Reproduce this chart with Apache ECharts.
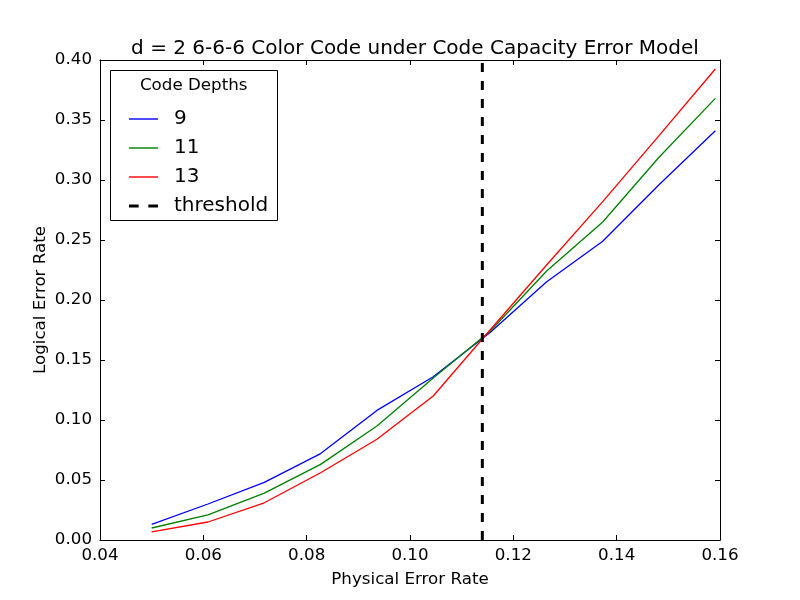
<!DOCTYPE html>
<html>
<head>
<meta charset="utf-8">
<script src="https://cdn.jsdelivr.net/npm/echarts@6/dist/echarts.min.js"></script>
<style>html,body{margin:0;padding:0;background:#fff}#c{width:800px;height:600px}</style>
</head>
<body>
<div id="c"></div>
<script>
const physicalErrorRates = [0.05, 0.0609, 0.0718, 0.0827, 0.0936, 0.1045, 0.1155, 0.1264, 0.1373, 0.1482, 0.1591];
const depth9  = [0.013, 0.030, 0.048, 0.072, 0.108, 0.136, 0.173, 0.215, 0.249, 0.296, 0.341];
const depth11 = [0.010, 0.021, 0.039, 0.063, 0.095, 0.135, 0.174, 0.224, 0.265, 0.319, 0.368];
const depth13 = [0.0067, 0.015, 0.031, 0.056, 0.084, 0.120, 0.175, 0.229, 0.282, 0.337, 0.3925];
const thresholdValue = 0.114;
const xTicks = [0.04, 0.06, 0.08, 0.10, 0.12, 0.14, 0.16];
const yTicks = [0.00, 0.05, 0.10, 0.15, 0.20, 0.25, 0.30, 0.35, 0.40];

const FONT = 'DejaVu Sans';
const pair = ys => physicalErrorRates.map((x, i) => [x, ys[i]]);
const SOLID_ICON = 'path://M0,0h29v1.4h-29z';
const DASH_ICON = 'path://M0,0h9v3h-9z M18,0h9v3h-9z';

const chart = echarts.init(document.getElementById('c'), null, {renderer: 'canvas'});
const baseAxis = {
  type: 'value',
  axisLine: {show: true, onZero: false, lineStyle: {color: '#000', width: 1}},
  axisTick: {show: true, inside: true, length: 5, lineStyle: {color: '#000', width: 1}},
  splitLine: {show: false},
};
chart.setOption({
  animation: false,
  backgroundColor: '#fff',
  title: {
    text: 'd = 2 6-6-6 Color Code under Code Capacity Error Model',
    left: 410, top: 34, textAlign: 'center',
    textStyle: {fontFamily: FONT, fontSize: 20, fontWeight: 'normal', color: '#000'}
  },
  grid: {left: 100, right: 80, top: 60, bottom: 60, containLabel: false},
  xAxis: [
    Object.assign({}, baseAxis, {
      min: xTicks[0], max: xTicks[xTicks.length - 1], interval: 0.02, position: 'bottom',
      name: 'Physical Error Rate', nameLocation: 'middle', nameGap: 31, nameMoveOverlap: false,
      nameTextStyle: {fontFamily: FONT, fontSize: 16.7, color: '#000'},
      axisLabel: {show: true, margin: 7, fontFamily: FONT, fontSize: 16.7, color: '#000',
        formatter: v => v.toFixed(2)}
    }),
    Object.assign({}, baseAxis, {
      min: xTicks[0], max: xTicks[xTicks.length - 1], interval: 0.02, position: 'top',
      axisLabel: {show: false}
    })
  ],
  yAxis: [
    Object.assign({}, baseAxis, {
      min: yTicks[0], max: yTicks[yTicks.length - 1], interval: 0.05, position: 'left',
      name: 'Logical Error Rate', nameLocation: 'middle', nameGap: 51, nameMoveOverlap: false,
      nameTextStyle: {fontFamily: FONT, fontSize: 16.7, color: '#000'},
      axisLabel: {show: true, margin: 8, fontFamily: FONT, fontSize: 16.7, color: '#000',
        formatter: v => v.toFixed(2)}
    }),
    Object.assign({}, baseAxis, {
      min: yTicks[0], max: yTicks[yTicks.length - 1], interval: 0.05, position: 'right',
      axisLabel: {show: false}
    })
  ],
  legend: {
    orient: 'vertical', left: 124, top: 104, itemWidth: 29, itemHeight: 20, itemGap: 9,
    data: [
      {name: '9', icon: SOLID_ICON, itemStyle: {color: '#0000ff'}},
      {name: '11', icon: SOLID_ICON, itemStyle: {color: '#008000'}},
      {name: '13', icon: SOLID_ICON, itemStyle: {color: '#ff0000'}},
      {name: 'threshold', icon: DASH_ICON, itemStyle: {color: '#000'}}
    ],
    textStyle: {fontFamily: FONT, fontSize: 20, color: '#000', padding: [0, 0, 0, 11]},
    z: 10
  },
  graphic: [
    {type: 'rect', z: 5, shape: {x: 110.5, y: 70.5, width: 167, height: 150},
      style: {fill: '#fff', stroke: '#000', lineWidth: 1}},
    {type: 'text', z: 6, x: 193.7, y: 86,
      style: {text: 'Code Depths', fontFamily: FONT, fontSize: 16.7, fill: '#000',
        textAlign: 'center', textVerticalAlign: 'middle'}}
  ],
  series: [
    {name: '9', type: 'line', data: pair(depth9), symbol: 'none', showSymbol: false,
      lineStyle: {color: '#0000ff', width: 1.3}, itemStyle: {color: '#0000ff'}},
    {name: '11', type: 'line', data: pair(depth11), symbol: 'none', showSymbol: false,
      lineStyle: {color: '#008000', width: 1.3}, itemStyle: {color: '#008000'}},
    {name: '13', type: 'line', data: pair(depth13), symbol: 'none', showSymbol: false,
      lineStyle: {color: '#ff0000', width: 1.3}, itemStyle: {color: '#ff0000'}},
    {name: 'threshold', type: 'line', data: [[thresholdValue, yTicks[0]], [thresholdValue, yTicks[yTicks.length - 1]]],
      symbol: 'none', showSymbol: false,
      lineStyle: {color: '#000', width: 3, type: [9, 9]}, itemStyle: {color: '#000'}}
  ]
});
</script>
</body>
</html>
